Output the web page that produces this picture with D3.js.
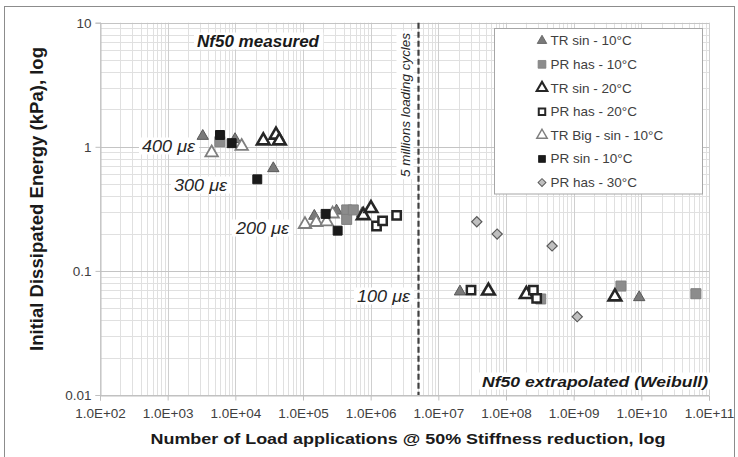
<!DOCTYPE html>
<html><head><meta charset="utf-8">
<script src="https://cdn.jsdelivr.net/npm/d3@7/dist/d3.min.js"></script>
<style>body{margin:0;background:#fff}svg{display:block}</style>
</head><body>
<svg id="c" width="738" height="457"></svg>
<script>
// ---- data ----
const seriesNames = ["TR sin - 10°C","PR has - 10°C","TR sin - 20°C","PR has - 20°C","TR Big - sin - 10°C","PR sin - 10°C","PR has - 30°C"];
const trSin10 = [[3300,1.22],[9900,1.15],[36400,0.67],[147000,0.277],[313000,0.305],[750000,0.291],[2.09e7,0.068],[9.3e9,0.0612]];
const prHas10 = [[5900,1.10],[442000,0.31],[442000,0.26],[554000,0.31],[3.26e8,0.0594],[5.0e9,0.0755],[6.4e10,0.0655]];
const trSin20 = [[25900,1.12],[39900,1.245],[44700,1.12],[777000,0.28],[1.01e6,0.319],[5.5e7,0.069],[2.0e8,0.0648],[4.07e9,0.062]];
const prHas20 = [[1.22e6,0.230],[1.50e6,0.253],[2.42e6,0.28],[3.04e7,0.070],[2.54e8,0.070],[2.84e8,0.060]];
const trBig10 = [[4470,0.896],[12400,1.01],[107000,0.237],[157000,0.246],[224000,0.249],[274000,0.288]];
const prSin10 = [[5930,1.245],[8830,1.07],[21100,0.547],[216000,0.288],[325000,0.211]];
const prHas30 = [[3.7e7,0.249],[7.4e7,0.198],[4.8e8,0.159],[1.13e9,0.0428]];
const xTicks = [1e2,1e3,1e4,1e5,1e6,1e7,1e8,1e9,1e10,1e11];
const yTicks = [0.01,0.1,1,10];
const yTickLabels = ["0.01","0.1","1","10"];
const limitCycles = 5e6;
const strainLabels = ["400 με","300 με","200 με","100 με"];

// ---- chart ----
const svg = d3.select("#c");
const F = "'Liberation Sans', Arial, sans-serif";
const x = d3.scaleLog().domain([1e2,1e11]).range([100,709]);
const y = d3.scaleLog().domain([0.01,10]).range([395,22.7]);

svg.append("rect").attr("x",4.5).attr("y",6.5).attr("width",730).attr("height",470)
  .attr("fill","#fff").attr("stroke","#8c8c8c").attr("stroke-width",1);

// grid
const minorX = [], minorY = [];
for (let e=2;e<11;e++) for (let m=2;m<10;m++) minorX.push(m*Math.pow(10,e));
for (let e=-2;e<1;e++) for (let m=2;m<10;m++) minorY.push(m*Math.pow(10,e));
const g = svg.append("g");
g.selectAll(".mx").data(minorX).join("line")
  .attr("x1",d=>Math.round(x(d))+0.5).attr("x2",d=>Math.round(x(d))+0.5)
  .attr("y1",y(10)).attr("y2",y(0.01)).attr("stroke","#e0e0e0");
g.selectAll(".my").data(minorY).join("line")
  .attr("y1",d=>Math.round(y(d))+0.5).attr("y2",d=>Math.round(y(d))+0.5)
  .attr("x1",x(1e2)).attr("x2",x(1e11)).attr("stroke","#e0e0e0");
g.selectAll(".Mx").data(xTicks).join("line")
  .attr("x1",d=>Math.round(x(d))+0.5).attr("x2",d=>Math.round(x(d))+0.5)
  .attr("y1",y(10)).attr("y2",y(0.01)).attr("stroke","#cfcfcf");
g.selectAll(".My").data(yTicks).join("line")
  .attr("y1",d=>Math.round(y(d))+0.5).attr("y2",d=>Math.round(y(d))+0.5)
  .attr("x1",x(1e2)).attr("x2",x(1e11)).attr("stroke","#c4c4c4");

// axes
const xa = svg.append("g").attr("transform",`translate(0,${Math.round(y(0.01))+0.5})`)
  .call(d3.axisBottom(x).tickValues(xTicks).tickSize(5).tickFormat(d=>"1.0E+"+String(Math.round(Math.log10(d))).padStart(2,"0")));
const ya = svg.append("g").attr("transform",`translate(${Math.round(x(1e2))+0.5},0)`)
  .call(d3.axisLeft(y).tickValues(yTicks).tickSize(5).tickFormat((d,i)=>yTickLabels[i]));
[xa,ya].forEach(a=>{
  a.select(".domain").attr("stroke","#bfbfbf");
  a.selectAll(".tick line").attr("stroke","#bfbfbf");
  a.selectAll("text").attr("fill","#404040").style("font-family",F).style("font-size","13.5px");
});
xa.selectAll("text").attr("dy","1.05em");
ya.selectAll("text").attr("x",-9);

// dashed line
svg.append("line").attr("x1",Math.round(x(limitCycles))+0.5).attr("x2",Math.round(x(limitCycles))+0.5)
  .attr("y1",y(10)).attr("y2",y(0.01)).attr("stroke","#404040").attr("stroke-width",2.2)
  .attr("stroke-dasharray","6,3");

// annotations with white background
function label(txt,cx,cy,opts){
  const t = svg.append("text").attr("x",cx).attr("y",cy).text(txt)
    .style("font-family",F).style("font-size",opts.size+"px")
    .style("font-style","italic").style("font-weight",opts.bold?"bold":"normal")
    .attr("fill",opts.fill||"#262626").attr("text-anchor",opts.anchor||"start")
    .attr("dominant-baseline","central");
  if (opts.len) t.attr("textLength",opts.len).attr("lengthAdjust","spacingAndGlyphs");
  if (opts.rot) t.attr("transform",`rotate(-90,${cx},${cy})`);
  const b = t.node().getBBox();
  let r = svg.insert("rect",()=>t.node()).attr("fill","#fff");
  if (opts.rot) {
    r.attr("x",cx-b.height/2-1).attr("y",cy-b.width/2-2).attr("width",b.height+2).attr("height",b.width+4);
  } else {
    r.attr("x",b.x-3).attr("y",b.y).attr("width",b.width+6).attr("height",b.height);
  }
  return t;
}
label("Nf50 measured",258,41,{size:16,bold:true,anchor:"middle",fill:"#1a1a1a",len:122});
label("Nf50 extrapolated (Weibull)",708,381,{size:15,bold:true,anchor:"end",fill:"#1a1a1a",len:226});
label("5 millions loading cycles",405,105,{size:13,anchor:"middle",rot:true,fill:"#262626",len:144});
const strainPos = [[142,146],[174,185],[236,228],[357,296]];
strainLabels.forEach((s,i)=>label(s,strainPos[i][0],strainPos[i][1],{size:16,fill:"#262626",len:53}));

// markers
const tri = d3.symbol().type(d3.symbolTriangle);
const sq = d3.symbol().type(d3.symbolSquare);
const styles = [
  {data:trSin10, shape:"tri", size:56, fill:"#7a7a7a", stroke:"#595959", sw:1},
  {data:prHas10, shape:"sq", size:100, fill:"#8c8c8c", stroke:"#7f7f7f", sw:1},
  {data:trSin20, shape:"tri", size:70, fill:"#fff", stroke:"#262626", sw:2.6},
  {data:prHas20, shape:"sq", size:70, fill:"#fff", stroke:"#262626", sw:2.5},
  {data:trBig10, shape:"tri", size:68, fill:"#fff", stroke:"#7f7f7f", sw:1.8},
  {data:prSin10, shape:"sq", size:80, fill:"#1a1a1a", stroke:"#1a1a1a", sw:1},
  {data:prHas30, shape:"dia", size:52, fill:"#bfbfbf", stroke:"#595959", sw:1.2}
];
function pathFor(st,scale){
  const s = st.size*(scale||1);
  if (st.shape==="tri") return tri.size(s)();
  return sq.size(s)();
}
styles.forEach(st=>{
  svg.append("g").selectAll("path").data(st.data).join("path")
    .attr("d",pathFor(st))
    .attr("transform",d=>`translate(${x(d[0])},${y(d[1])})`+(st.shape==="dia"?" rotate(45)":""))
    .attr("fill",st.fill).attr("stroke",st.stroke).attr("stroke-width",st.sw)
    .attr("stroke-linejoin","miter");
});

// legend
svg.append("rect").attr("x",494.5).attr("y",28.5).attr("width",208).attr("height",165.5)
  .attr("fill","#fff").attr("stroke","#a6a6a6");
const leg = svg.append("g").selectAll("g").data(styles).join("g")
  .attr("transform",(d,i)=>`translate(542,${40.7+i*23.65})`);
leg.append("path").attr("d",d=>pathFor(d,d.shape==="tri"?0.7:0.6))
  .attr("transform",d=>d.shape==="dia"?"rotate(45)":null)
  .attr("fill",d=>d.fill).attr("stroke",d=>d.stroke).attr("stroke-width",d=>d.sw*0.8);
leg.append("text").attr("x",8.5).attr("dominant-baseline","central").text((d,i)=>seriesNames[i])
  .style("font-family",F).style("font-size","13.5px").attr("fill","#404040");

// axis titles
svg.append("text").attr("transform","translate(37,199) rotate(-90)").attr("text-anchor","middle")
  .attr("dominant-baseline","central").text("Initial Dissipated Energy (kPa), log")
  .attr("textLength",304).attr("lengthAdjust","spacingAndGlyphs")
  .style("font-family",F).style("font-size","18px").style("font-weight","bold").attr("fill","#1a1a1a");
svg.append("text").attr("x",408).attr("y",438).attr("text-anchor","middle")
  .attr("dominant-baseline","central").text("Number of Load applications @ 50% Stiffness reduction, log")
  .attr("textLength",515).attr("lengthAdjust","spacingAndGlyphs")
  .style("font-family",F).style("font-size","15px").style("font-weight","bold").attr("fill","#1a1a1a");
</script>
</body></html>
